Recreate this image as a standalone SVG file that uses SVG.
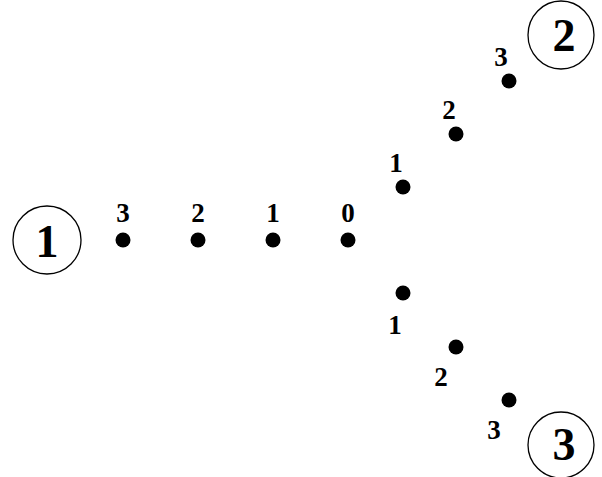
<svg xmlns="http://www.w3.org/2000/svg" width="602" height="477" viewBox="0 0 602 477">
<defs>
<style type="text/css">
.c{fill:none;stroke:#000;stroke-width:1.3}
.d{fill:#000}
</style>
</defs>
<rect width="602" height="477" fill="#fff"/>
<g id="node1"><ellipse class="c" cx="47" cy="240" rx="34" ry="34"/><text x="47" y="257" font-family="Liberation Serif, Times New Roman, serif" font-weight="bold" font-size="46" text-anchor="middle">1</text></g>
<g id="node2"><ellipse class="c" cx="561" cy="35" rx="33" ry="34"/><text x="564" y="51" font-family="Liberation Serif, Times New Roman, serif" font-weight="bold" font-size="46" text-anchor="middle">2</text></g>
<g id="node3"><ellipse class="c" cx="561" cy="445" rx="33" ry="33"/><text x="564" y="460" font-family="Liberation Serif, Times New Roman, serif" font-weight="bold" font-size="46" text-anchor="middle">3</text></g>
<g id="connectors" font-family="Liberation Serif, Times New Roman, serif" font-weight="bold" font-size="27" text-anchor="middle">
<g id="left">
<circle class="d" cx="123" cy="240" r="7.5"/><text x="123" y="222">3</text>
<circle class="d" cx="198" cy="240" r="7.5"/><text x="198" y="222">2</text>
<circle class="d" cx="273" cy="240" r="7.5"/><text x="273" y="222">1</text>
<circle class="d" cx="348" cy="240" r="7.5"/><text x="348" y="222">0</text>
</g>
<g id="upper">
<circle class="d" cx="403" cy="187" r="7.5"/><text x="396" y="172">1</text>
<circle class="d" cx="456" cy="134" r="7.5"/><text x="449" y="119">2</text>
<circle class="d" cx="509" cy="81" r="7.5"/><text x="501" y="66">3</text>
</g>
<g id="lower">
<circle class="d" cx="403" cy="293" r="7.5"/><text x="395" y="334">1</text>
<circle class="d" cx="456" cy="347" r="7.5"/><text x="441" y="386">2</text>
<circle class="d" cx="509" cy="400" r="7.5"/><text x="494" y="439">3</text>
</g>
</g>
</svg>
